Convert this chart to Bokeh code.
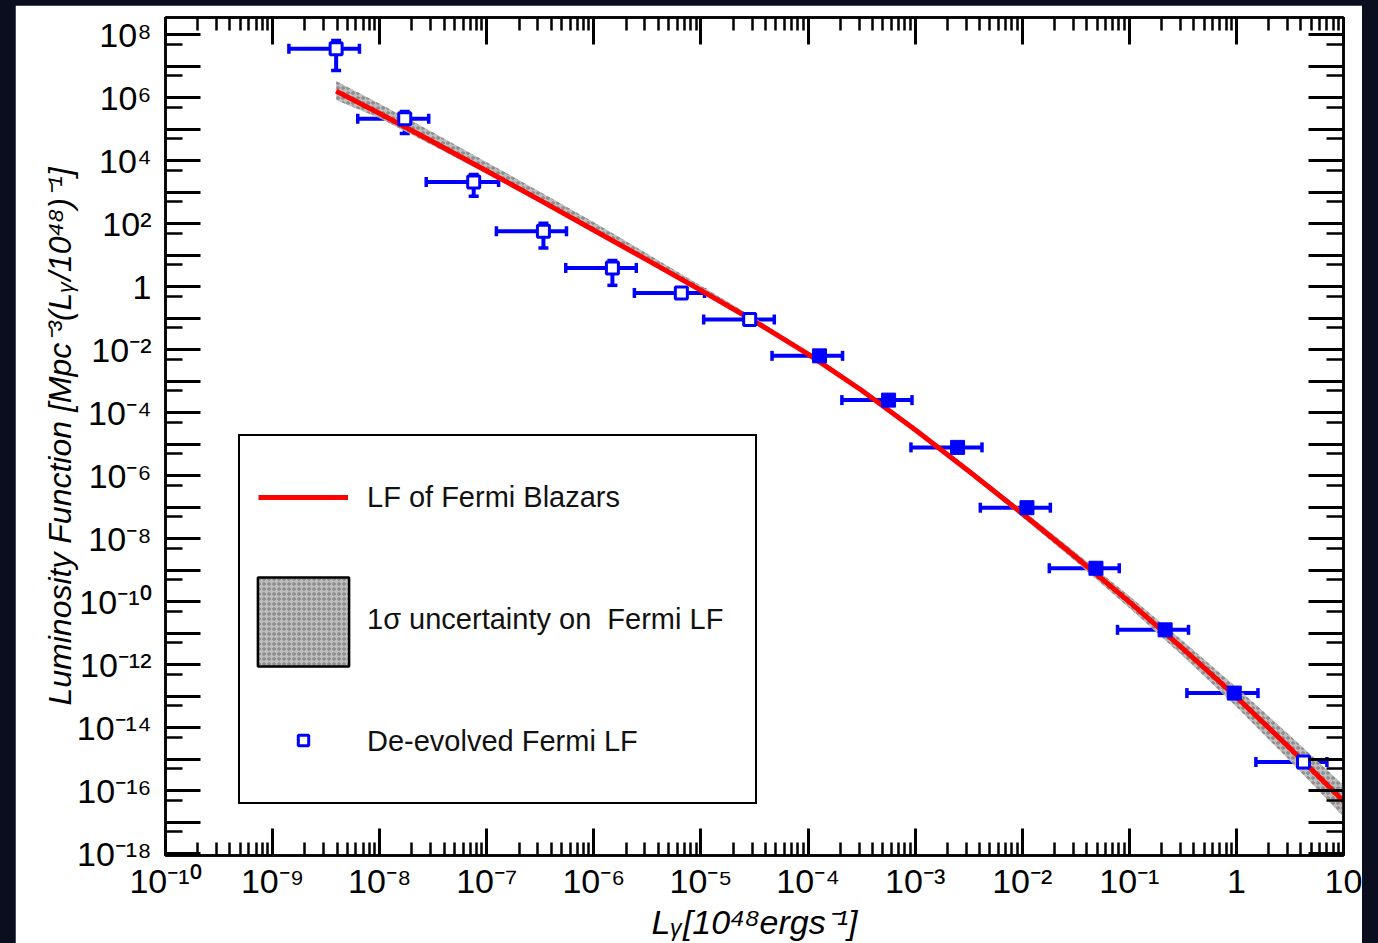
import numpy as np
from bokeh.plotting import figure
from bokeh.models import (Range1d, LogAxis, FixedTicker, CustomJSTickFormatter, Whisker, TeeHead,
                          ColumnDataSource, Legend, LegendItem, Column)
from bokeh.embed import file_html
from bokeh.resources import INLINE

# ---------------- data ----------------
# De-evolved Fermi LF points: luminosity (10^48 erg/s) and LF value
lum = [3.92e-9, 1.714e-8, 7.55e-8, 3.38e-7, 1.49e-6, 6.56e-6, 2.85e-5, 1.28e-4, 5.65e-4,
       2.49e-3, 1.107e-2, 4.88e-2, 0.216, 0.955, 4.23]
lum_lo = [1.42e-9, 6.24e-9, 2.72e-8, 1.23e-7, 5.46e-7, 2.39e-6, 1.06e-5, 4.61e-5, 2.07e-4,
          9.14e-4, 4.06e-3, 1.79e-2, 7.76e-2, 0.345, 1.52]
lum_hi = [6.47e-9, 2.87e-8, 1.29e-7, 5.55e-7, 2.49e-6, 1.08e-5, 4.84e-5, 2.10e-4, 9.35e-4,
          4.21e-3, 1.83e-2, 8.05e-2, 0.357, 1.59, 7.0]
lf = [3.52e7, 2.13e5, 2.08e3, 57.0, 3.92, 0.631, 9.06e-2, 6.37e-3, 2.51e-4,
      7.94e-6, 9.68e-8, 1.16e-9, 1.29e-11, 1.27e-13, 8.24e-16]
lf_lo = [7.23e6, 7.24e4, 733.0, 16.9, 1.10, 0.457, 7.6e-2, 5.2e-3, 2.0e-4,
         6.5e-6, 7.9e-8, 9.5e-10, 1.05e-11, 1.02e-13, 6.6e-16]
lf_hi = [6.46e7, 3.63e5, 3.63e3, 102.0, 6.76, 0.891, 0.110, 7.8e-3, 3.1e-4,
         9.8e-6, 1.17e-7, 1.41e-9, 1.58e-11, 1.55e-13, 1.02e-15]
filled = [False, False, False, False, False, False, False, True, True,
          True, True, True, True, True, False]

# LF of Fermi blazars (red curve) and its 1 sigma band
curve_x = [3.92e-9, 1e-8, 3.16e-8, 1e-7, 3.16e-7, 1e-6, 3.16e-6, 1e-5, 3.16e-5, 1e-4,
           3.16e-4, 1e-3, 3.16e-3, 1e-2, 3.16e-2, 0.1, 0.316, 1.0, 3.16, 10.0]
curve_y = [1.596e6, 3.10e5, 3.90e4, 4.69e3, 545.0, 61.8, 6.93, 0.760, 7.96e-2, 7.26e-3,
           5.14e-4, 2.89e-5, 1.416e-6, 6.32e-8, 2.64e-9, 9.91e-11, 3.28e-12, 9.57e-14,
           2.27e-15, 4.80e-17]
band_hi = [3.33e6, 6.32e5, 7.78e4, 8.93e3, 1.01e3, 110.0, 11.0, 1.07, 0.1026, 8.73e-3,
           6.18e-4, 3.48e-5, 1.74e-6, 8.15e-8, 3.64e-9, 1.535e-10, 5.70e-12, 1.954e-13,
           5.70e-15, 1.517e-16]
band_lo = [8.38e5, 2.19e5, 2.96e4, 3.81e3, 453.0, 52.6, 6.04, 0.678, 7.10e-2, 6.47e-3,
           4.48e-4, 2.46e-5, 1.151e-6, 4.91e-8, 1.91e-9, 6.40e-11, 1.89e-12, 4.69e-14,
           9.04e-16, 1.517e-17]

# axis ticks and labels
x_tick_exps = [-10, -9, -8, -7, -6, -5, -4, -3, -2, -1, 0, 1]
x_tick_labels = ["10⁻¹⁰", "10⁻⁹", "10⁻⁸", "10⁻⁷", "10⁻⁶", "10⁻⁵", "10⁻⁴", "10⁻³", "10⁻²",
                 "10⁻¹", "1", "10"]
y_tick_exps = [-18, -16, -14, -12, -10, -8, -6, -4, -2, 0, 2, 4, 6, 8]
y_tick_labels = ["10⁻¹⁸", "10⁻¹⁶", "10⁻¹⁴", "10⁻¹²", "10⁻¹⁰", "10⁻⁸", "10⁻⁶", "10⁻⁴", "10⁻²",
                 "1", "10²", "10⁴", "10⁶", "10⁸"]
x_title = "Lᵧ[10⁴⁸ergs⁻¹]"
y_title = "Luminosity Function [Mpc⁻³(Lᵧ/10⁴⁸)⁻¹]"
legend_labels = ["LF of Fermi Blazars", "1σ uncertainty on  Fermi LF", "De-evolved Fermi LF"]

FONT = "Liberation Sans"
BLUE = "#0000ff"
RED = "#ff0000"

p = figure(width=1347, height=938, output_backend="svg", toolbar_location=None,
           x_axis_type="log", y_axis_type="log",
           x_range=Range1d(1e-10, 10), y_range=Range1d(10 ** -18.05, 10 ** 8.54),
           min_border_left=150, min_border_right=19, min_border_top=12, min_border_bottom=87)
p.margin = (5, 16, 0, 15)
p.background_fill_color = "white"
p.border_fill_color = "white"
p.grid.visible = False
p.outline_line_color = "black"
p.outline_line_width = 2.5

x_ticker = FixedTicker(ticks=[10.0 ** d for d in range(-10, 2)],
                       minor_ticks=[k * 10.0 ** d for d in range(-10, 1) for k in range(2, 10)])
y_ticker = FixedTicker(ticks=[10.0 ** d for d in range(-18, 9)],
                       minor_ticks=[5 * 10.0 ** d for d in range(-19, 8)])

fmt_code = """
const e = Math.round(Math.log10(tick));
const i = exps.indexOf(e);
return i >= 0 ? labels[i] : "";
"""
x_fmt = CustomJSTickFormatter(args=dict(exps=x_tick_exps, labels=x_tick_labels), code=fmt_code)
y_fmt = CustomJSTickFormatter(args=dict(exps=y_tick_exps, labels=y_tick_labels), code=fmt_code)
blank_fmt = CustomJSTickFormatter(code="return '';")


def style_axis(ax, major_len, minor_len):
    ax.major_tick_in = major_len
    ax.major_tick_out = 0
    ax.minor_tick_in = minor_len
    ax.minor_tick_out = 0
    ax.major_tick_line_width = 3
    ax.minor_tick_line_width = 2.5
    ax.major_tick_line_color = "black"
    ax.minor_tick_line_color = "black"
    ax.axis_line_width = 2.5
    ax.axis_line_color = "black"


xa = p.xaxis[0]
xa.ticker = x_ticker
xa.formatter = x_fmt
style_axis(xa, 27, 13)
xa.major_label_text_font = FONT
xa.major_label_text_font_size = "34px"
xa.major_label_text_color = "black"
xa.major_label_standoff = 6
xa.axis_label = x_title
xa.axis_label_text_font = FONT
xa.axis_label_text_font_size = "34px"
xa.axis_label_text_font_style = "italic"
xa.axis_label_text_color = "black"
xa.axis_label_standoff = 0

ya = p.yaxis[0]
ya.ticker = y_ticker
ya.formatter = y_fmt
style_axis(ya, 35, 17)
ya.major_label_text_font = FONT
ya.major_label_text_font_size = "34px"
ya.major_label_text_color = "black"
ya.major_label_standoff = 14
ya.axis_label = y_title
ya.axis_label_text_font = FONT
ya.axis_label_text_font_size = "32px"
ya.axis_label_text_font_style = "italic"
ya.axis_label_text_color = "black"
ya.axis_label_standoff = -4

top = LogAxis(ticker=x_ticker, formatter=blank_fmt, major_label_text_font_size="0px",
              major_label_standoff=0)
style_axis(top, 27, 13)
p.add_layout(top, "above")
right = LogAxis(ticker=y_ticker, formatter=blank_fmt, major_label_text_font_size="0px",
                major_label_standoff=0)
style_axis(right, 35, 17)
p.add_layout(right, "right")

# 1 sigma band
band_r = p.varea(x=curve_x, y1=band_lo, y2=band_hi, fill_color="#bdbdbd",
                 hatch_pattern="ring", hatch_color="#777777", hatch_scale=5, hatch_weight=1)
# red LF curve
line_r = p.line(x=curve_x, y=curve_y, line_color=RED, line_width=5)

# error bars
src = ColumnDataSource(dict(x=lum, xlo=lum_lo, xhi=lum_hi, y=lf, ylo=lf_lo, yhi=lf_hi))
for dim, base, lo, hi in (("width", "y", "xlo", "xhi"), ("height", "x", "ylo", "yhi")):
    w = Whisker(source=src, base=base, lower=lo, upper=hi, dimension=dim,
                line_color=BLUE, line_width=4,
                upper_head=TeeHead(size=10, line_color=BLUE, line_width=3.5),
                lower_head=TeeHead(size=10, line_color=BLUE, line_width=3.5))
    p.add_layout(w)

open_src = ColumnDataSource(dict(x=[a for a, f in zip(lum, filled) if not f],
                                 y=[b for b, f in zip(lf, filled) if not f]))
fill_src = ColumnDataSource(dict(x=[a for a, f in zip(lum, filled) if f],
                                 y=[b for b, f in zip(lf, filled) if f]))
open_r = p.scatter(x="x", y="y", source=open_src, marker="square", size=12,
                   fill_color="white", line_color=BLUE, line_width=3)
p.scatter(x="x", y="y", source=fill_src, marker="square", size=14,
          fill_color=BLUE, line_color=BLUE, line_width=1)

# legend-only helpers: NaN data so nothing is drawn in the plot itself
nan1 = np.array([np.nan])
box_r = p.quad(left=nan1, right=nan1, top=nan1, bottom=nan1, fill_alpha=0,
               line_color="black", line_width=2.5)
ghost_r = p.line(x=nan1, y=nan1, line_alpha=0)

legA = Legend(items=[LegendItem(label=legend_labels[0], renderers=[line_r]),
                     LegendItem(label=legend_labels[1], renderers=[ghost_r]),
                     LegendItem(label=legend_labels[2], renderers=[ghost_r])],
              location=(73, 51), padding=18, spacing=36, glyph_width=90, glyph_height=86,
              label_standoff=19, label_width=370, margin=0,
              border_line_color="black", border_line_width=2, border_line_alpha=1,
              background_fill_color="white", background_fill_alpha=1,
              label_text_font=FONT, label_text_font_size="29px", label_text_color="#111111")
# band swatch (area legend glyphs are inset by 10%, so a larger glyph box is used)
legC = Legend(items=[LegendItem(label=" ", renderers=[band_r, box_r])],
              location=(81, 178), padding=0, spacing=0, glyph_width=114, glyph_height=111,
              label_standoff=0, label_width=0, margin=0, border_line_alpha=0,
              background_fill_alpha=0, label_text_font_size="1px")
# small open-square marker swatch
legB = Legend(items=[LegendItem(label=" ", renderers=[open_r])],
              location=(93, 102), padding=0, spacing=0, glyph_width=90, glyph_height=26,
              label_standoff=0, label_width=0, margin=0, border_line_alpha=0,
              background_fill_alpha=0, label_text_font_size="1px")
p.add_layout(legA)
p.add_layout(legC)
p.add_layout(legB)

layout = Column(children=[p], width=1378, height=943, sizing_mode="fixed",
                styles={"background-color": "#0b0e1e"})

open("out.html", "w").write(file_html(layout, INLINE))
